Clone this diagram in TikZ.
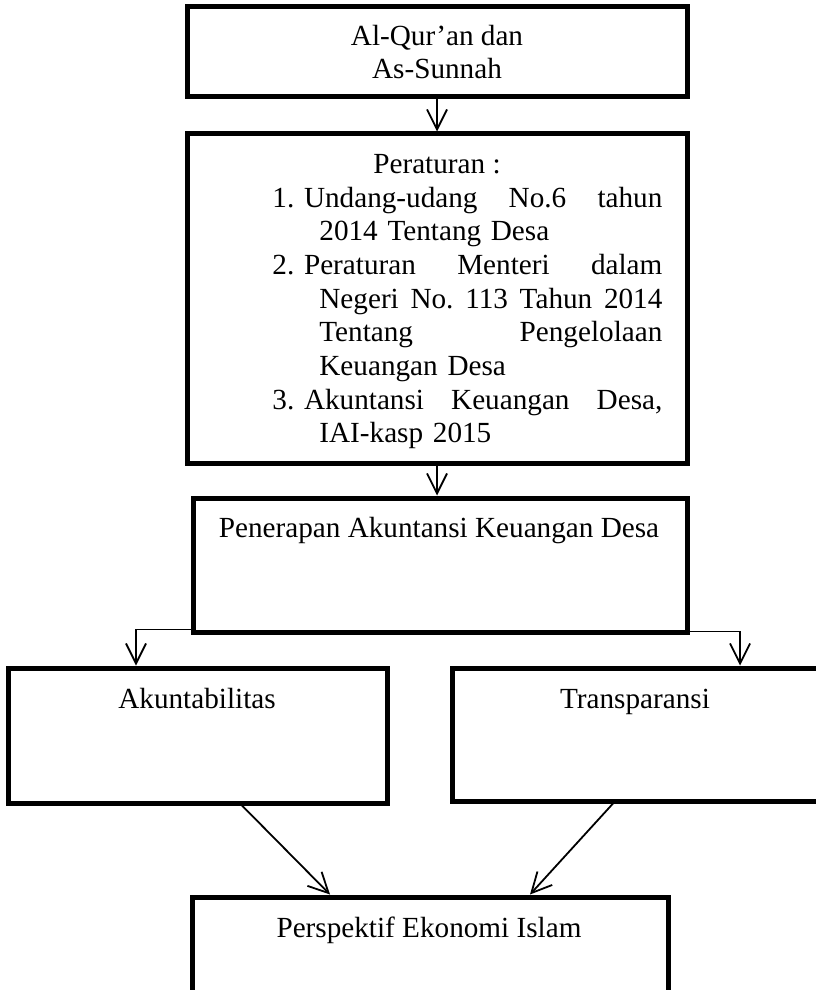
\documentclass[tikz,border=0pt]{standalone}
\usepackage{fontspec}
\setmainfont{Liberation Serif}
\usetikzlibrary{arrows.meta}
\tikzset{
  kotak/.style={draw, line width=2.5pt, inner sep=0pt},
  teks/.style={inner sep=0pt},
  panah/.style={line width=0.9pt, -{Straight Barb[length=10pt,width=10pt]}}
}
\newcommand{\baris}[1]{\leavevmode\hbox to\linewidth{#1}\par}
\newdimen\gantung \gantung=23.5pt
\frenchspacing

\begin{document}
\begin{tikzpicture}[x=0.5pt,y=-0.5pt,font=\fontsize{14.6pt}{16.85pt}\selectfont]
\useasboundingbox (0,0) rectangle (815,990);

\node[kotak,minimum width=250pt,minimum height=45pt,align=center] (quran) at (437,52) {Al-Qur’an dan\\As-Sunnah};

%-------------------------------------
\node[kotak,minimum width=250pt,minimum height=164.5pt] (aturan) at (437,298.5) {};
\node[teks,anchor=base] (judul) at (437,173) {Peraturan :};
\node[teks,anchor=base west,text width=195pt] (daftar) at (272,207) {%
\baris{1. Undang-udang\hfill No.6\hfill tahun}
\baris{\hskip\gantung 2014 Tentang Desa\hfil}
\baris{2. Peraturan\hfill Menteri\hfill dalam}
\baris{\hskip\gantung Negeri\hfill No.\hfill 113\hfill Tahun\hfill 2014}
\baris{\hskip\gantung Tentang\hfill Pengelolaan}
\baris{\hskip\gantung Keuangan Desa\hfil}
\baris{3. Akuntansi\hfill Keuangan\hfill Desa,}
\baris{\hskip\gantung IAI-kasp 2015\hfil}};

%-------------------------------------
\node[kotak,minimum width=247pt,minimum height=67pt] (terap) at (440,565) {};
\node[teks,anchor=base] (terapT) at (439,537) {Penerapan Akuntansi Keuangan Desa};

\node[kotak,minimum width=189.5pt,minimum height=67.5pt] (akun) at (197.5,735.5) {};
\node[teks,anchor=base] (akunT) at (197,708) {Akuntabilitas};

\node[kotak,minimum width=183pt,minimum height=66.5pt] (trans) at (635,734.5) {};
\node[teks,anchor=base] (transT) at (635,708) {Transparansi};

\node[kotak,minimum width=238pt,minimum height=67pt] (islam) at (430,964) {};
\node[teks,anchor=base] (islamT) at (429,937) {Perspektif Ekonomi Islam};

%-------------------------------------
\draw[panah] (quran) -- (aturan);
\draw[panah] (aturan.south) -- (aturan.south |- terap.north);
\draw[panah] ([yshift=2.5pt]terap.south west) -| ([xshift=-30.75pt]akun.north);
\draw[panah] ([yshift=1.5pt]terap.south east) -| ([xshift=52.5pt]trans.north);
\draw[panah] ([xshift=22.25pt]akun.south) -- ([xshift=-50pt]islam.north);
\draw[panah] ([xshift=-11pt]trans.south) -- ([xshift=50pt]islam.north);
\end{tikzpicture}
\end{document}
